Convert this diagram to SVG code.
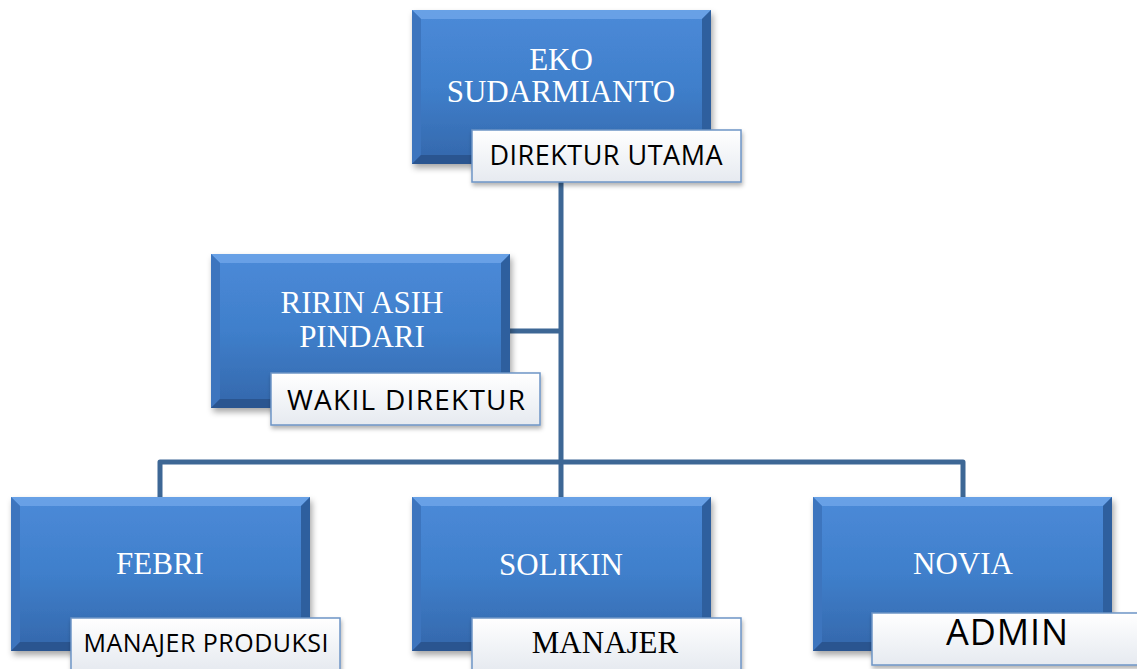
<svg xmlns="http://www.w3.org/2000/svg" width="1137" height="669" viewBox="0 0 1137 669">
<defs>
<linearGradient id="gBox" x1="0" y1="0" x2="0" y2="1">
<stop offset="0" stop-color="#4c8ad8"/>
<stop offset="0.5" stop-color="#3f7fcb"/>
<stop offset="1" stop-color="#3467ab"/>
</linearGradient>
<linearGradient id="gLbl" x1="0" y1="0" x2="0" y2="1">
<stop offset="0" stop-color="#ffffff"/>
<stop offset="1" stop-color="#e6eaf0"/>
</linearGradient>
<filter id="sh" x="-10%" y="-10%" width="125%" height="130%">
<feDropShadow dx="2" dy="4" stdDeviation="3" flood-color="#000" flood-opacity="0.35"/>
</filter>
<filter id="sh2" x="-10%" y="-20%" width="125%" height="150%">
<feDropShadow dx="1" dy="3" stdDeviation="2" flood-color="#000" flood-opacity="0.3"/>
</filter>
<g id="bevel">
<rect x="0" y="0" width="299" height="154" fill="url(#gBox)"/>
<polygon points="0,0 299,0 290,9 9,9" fill="#6fa6ea" opacity="0.8"/>
<polygon points="0,0 9,9 9,145 0,154" fill="#3c74be"/>
<polygon points="299,0 290,9 290,145 299,154" fill="#2f5f9e"/>
<polygon points="0,154 9,145 290,145 299,154" fill="#2a5590"/>
</g>
</defs>
<style>
.conn{fill:none;stroke:#3d6795;stroke-width:5;stroke-linejoin:round}
.name{font-family:"Liberation Serif","Times New Roman",serif;font-size:31px;fill:#ffffff;text-anchor:middle}
.lbl{fill:url(#gLbl);stroke:#6e95c6;stroke-width:1.5}
.ltxt{font-family:"Open Sans","Liberation Sans",sans-serif;fill:#000;text-anchor:middle}
.lser{font-family:"Liberation Serif","Times New Roman",serif;fill:#000;text-anchor:middle}
</style>
<g id="connectors">
<path class="conn" d="M561 180 V497"/>
<path class="conn" d="M510 331 H561"/>
<path class="conn" d="M160 497 V462 H963 V497"/>
</g>
<g id="eko">
<use href="#bevel" x="412" y="10" filter="url(#sh)"/>
<text class="name" x="561" y="70">EKO</text>
<text class="name" x="561" y="102">SUDARMIANTO</text>
<rect class="lbl" x="472" y="130" width="269" height="52" filter="url(#sh2)"/>
<text class="ltxt" x="606" y="165" font-size="27" textLength="233">DIREKTUR UTAMA</text>
</g>
<g id="ririn">
<use href="#bevel" x="211" y="254" filter="url(#sh)"/>
<text class="name" x="362" y="313">RIRIN ASIH</text>
<text class="name" x="362" y="347">PINDARI</text>
<rect class="lbl" x="271" y="373" width="269" height="52" filter="url(#sh2)"/>
<text class="ltxt" x="406" y="410" font-size="28" textLength="238">WAKIL DIREKTUR</text>
</g>
<g id="febri">
<use href="#bevel" x="11" y="497" filter="url(#sh)"/>
<text class="name" x="160" y="574">FEBRI</text>
<rect class="lbl" x="71" y="618" width="269" height="52" filter="url(#sh2)"/>
<text class="ltxt" x="206" y="652" font-size="25" textLength="245">MANAJER PRODUKSI</text>
</g>
<g id="solikin">
<use href="#bevel" x="412" y="497" filter="url(#sh)"/>
<text class="name" x="561" y="575">SOLIKIN</text>
<rect class="lbl" x="472" y="618" width="269" height="52" filter="url(#sh2)"/>
<text class="lser" x="605" y="653" font-size="31">MANAJER</text>
</g>
<g id="novia">
<use href="#bevel" x="813" y="497" filter="url(#sh)"/>
<text class="name" x="963" y="574">NOVIA</text>
<rect class="lbl" x="872" y="613" width="269" height="52" filter="url(#sh2)"/>
<text class="ltxt" x="1007" y="645" font-size="36" textLength="122">ADMIN</text>
</g>
</svg>
